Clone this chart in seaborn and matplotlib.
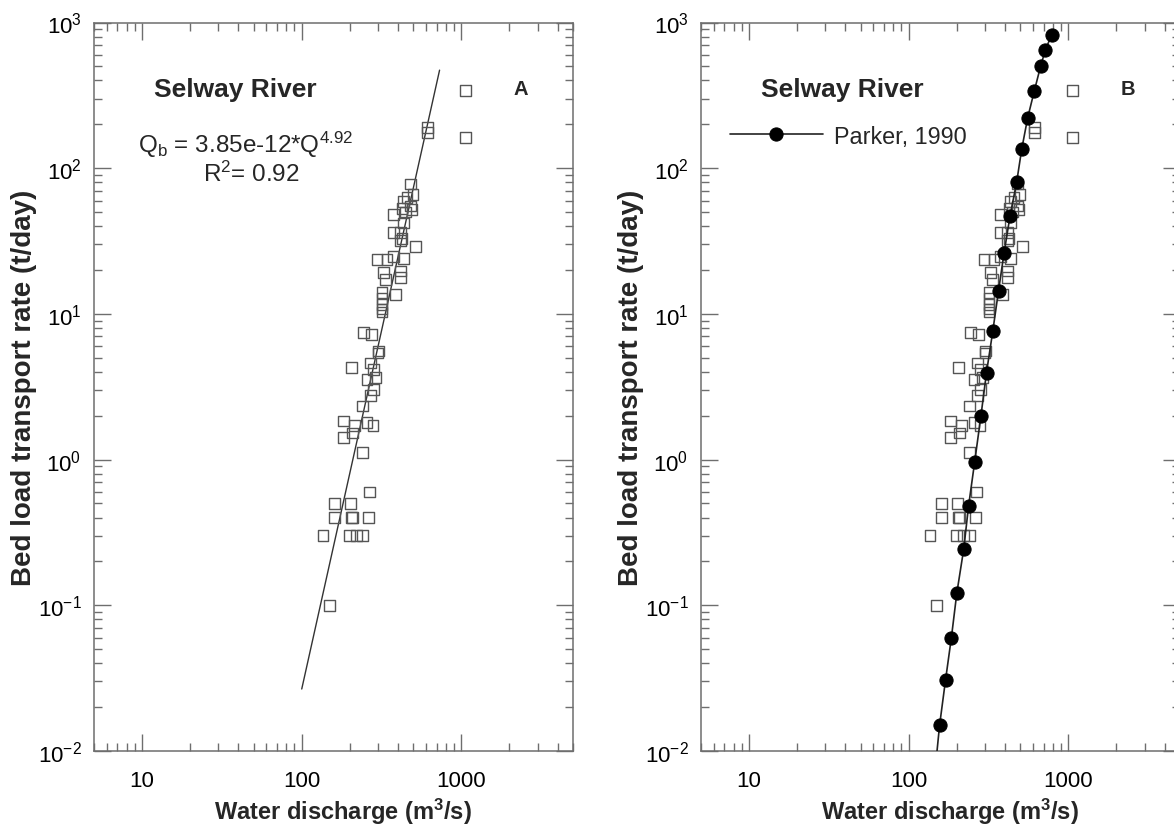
import numpy as np
import pandas as pd
import matplotlib
matplotlib.use("Agg")
import matplotlib.pyplot as plt
from matplotlib.ticker import LogLocator, NullFormatter, FixedLocator
import seaborn as sns

# Observed bed load samples, Selway River
obs_q = [1060, 1060, 615, 615,
         479, 497, 456, 434, 479, 424, 491, 376, 446, 514, 434, 414, 376, 424, 414,
         296, 342, 376, 434, 326, 414, 414, 334, 386, 318, 318, 318, 318, 318,
         244, 275, 303, 300, 206, 269, 282, 289, 256, 282, 269, 239,
         183, 214, 256, 279, 183, 209, 239,
         266, 160, 201, 161, 204, 209, 261, 136, 200, 220, 239, 150]
obs_qb = [340, 162, 190, 175,
          78, 66, 63, 59, 55, 53, 52, 48, 50, 29, 42, 36, 36, 33, 32,
          23.7, 23.7, 24.9, 24, 19.2, 19.7, 17.7, 17.3, 13.6, 14, 12.7, 11.6, 10.8, 10.3,
          7.45, 7.25, 5.57, 5.4, 4.28, 4.6, 4.17, 3.66, 3.56, 3.04, 2.74, 2.33,
          1.84, 1.72, 1.80, 1.72, 1.42, 1.52, 1.12,
          0.60, 0.50, 0.50, 0.40, 0.40, 0.40, 0.40, 0.30, 0.30, 0.30, 0.30, 0.10]

# Power-law regression Qb = a * Q^b
fit_a = 3.85e-12
fit_b = 4.92
fit_r2 = 0.92
fit_q_range = [100, 730]

# Parker (1990) surface-based transport prediction
parker_q = [785, 718, 671, 612, 556, 510, 474, 431, 395, 365, 336, 307, 283,
            259, 237, 221, 200, 185, 170, 156]
parker_qb = [820, 650, 505, 340, 222, 135, 80, 47, 26, 14.4, 7.6, 3.96, 1.98,
             0.97, 0.48, 0.243, 0.121, 0.060, 0.0307, 0.015]
# the curve continues below the plotted range
parker_tail_q = [156, 146]
parker_tail_qb = [0.015, 0.0072]

x_ticks = [10, 100, 1000]
x_tick_labels = ["10", "100", "1000"]
y_ticks = [1e-2, 1e-1, 1e0, 1e1, 1e2, 1e3]
y_tick_labels = [r"$\mathrm{10^{-2}}$", r"$\mathrm{10^{-1}}$", r"$\mathrm{10^{0}}$",
                 r"$\mathrm{10^{1}}$", r"$\mathrm{10^{2}}$", r"$\mathrm{10^{3}}$"]

sns.set_theme(style="ticks")
plt.rcParams["font.family"] = ["Liberation Sans", "DejaVu Sans"]
plt.rcParams["mathtext.fontset"] = "custom"
plt.rcParams["mathtext.rm"] = "Liberation Sans"
plt.rcParams["mathtext.it"] = "Liberation Sans:italic"
plt.rcParams["mathtext.bf"] = "Liberation Sans:bold"
plt.rcParams["axes.unicode_minus"] = False

obs = pd.DataFrame({"Q": obs_q, "Qb": obs_qb})
parker = pd.DataFrame({"Q": parker_q, "Qb": parker_qb})
parker_tail = pd.DataFrame({"Q": parker_tail_q, "Qb": parker_tail_qb})
fit = pd.DataFrame({"Q": fit_q_range})
fit["Qb"] = fit_a * fit["Q"] ** fit_b

W, H = 1174, 828
fig = plt.figure(figsize=(W / 100, H / 100), dpi=100)
axA = fig.add_axes([94 / W, 76 / H, 479 / W, 728.5 / H])
axB = fig.add_axes([701 / W, 76 / H, 479 / W, 728.5 / H])

spine_col = "#6e6e6e"
sq_col = "#555555"


def style_axes(ax):
    ax.set_xscale("log")
    ax.set_yscale("log")
    ax.set_xlim(5, 5000)
    ax.set_ylim(1e-2, 1e3)
    ax.xaxis.set_major_locator(FixedLocator(x_ticks))
    ax.set_xticklabels(x_tick_labels)
    ax.yaxis.set_major_locator(FixedLocator(y_ticks))
    ax.set_yticklabels(y_tick_labels)
    ax.xaxis.set_minor_locator(LogLocator(base=10, subs=np.arange(2, 10), numticks=20))
    ax.yaxis.set_minor_locator(LogLocator(base=10, subs=np.arange(2, 10), numticks=20))
    ax.xaxis.set_minor_formatter(NullFormatter())
    ax.yaxis.set_minor_formatter(NullFormatter())
    for s in ax.spines.values():
        s.set_color(spine_col)
        s.set_linewidth(1.1)
        s.set_visible(True)
    ax.tick_params(which="both", direction="in", top=True, right=True,
                   color=spine_col, width=1.0, labelcolor="black", labelsize=16)
    ax.tick_params(which="major", length=12)
    ax.tick_params(which="minor", length=5.5)
    ax.tick_params(axis="x", which="major", pad=14)
    ax.tick_params(axis="y", which="major", pad=9)
    ax.set_xlabel(r"Water discharge ($\mathbf{m^{3}/s}$)", fontsize=17, fontweight="bold")
    ax.set_ylabel("Bed load transport rate (t/day)", fontsize=20, fontweight="bold")
    ax.xaxis.set_label_coords(0.52, -0.062)
    ax.yaxis.set_label_coords(-0.120, 0.5)
    ax.text(0.295, 0.909, "Selway River", transform=ax.transAxes, fontsize=19,
            fontweight="bold", ha="center", va="center")


for ax in (axA, axB):
    sns.scatterplot(data=obs, x="Q", y="Qb", ax=ax, marker="s", s=60,
                    facecolors="none", edgecolor=sq_col, linewidth=1.0, zorder=3)

# Panel A: regression line and its equation
sns.lineplot(data=fit, x="Q", y="Qb", ax=axA, color="#333333", linewidth=1.0, zorder=2)
style_axes(axA)
axA.text(0.092, 0.833, "Q$_\\mathrm{b}$ = 3.85e-12*Q$^\\mathrm{4.92}$",
         transform=axA.transAxes, fontsize=17.5, ha="left", va="center")
axA.text(0.430, 0.793, "R$^\\mathrm{2}$= " + f"{fit_r2:.2f}",
         transform=axA.transAxes, fontsize=17.5, ha="right", va="center")
axA.text(0.891, 0.910, "A", transform=axA.transAxes, fontsize=14.5,
         fontweight="bold", ha="center", va="center")

# Panel B: Parker (1990) prediction over the observations
sns.lineplot(data=parker_tail, x="Q", y="Qb", ax=axB, color="#222222",
             linewidth=1.2, zorder=4, legend=False)
sns.lineplot(data=parker, x="Q", y="Qb", ax=axB, color="#222222", linewidth=1.2,
             marker="o", markersize=9.5, markerfacecolor="black",
             markeredgecolor="black", zorder=5, label="Parker, 1990")
style_axes(axB)
axB.text(0.891, 0.910, "B", transform=axB.transAxes, fontsize=14.5,
         fontweight="bold", ha="center", va="center")
axB.legend(loc="center left", bbox_to_anchor=(0.06, 0.844), frameon=False,
           fontsize=16.8, handlelength=4.0, handletextpad=0.47, borderpad=0,
           borderaxespad=0)

fig.savefig("out.png", dpi=100)
